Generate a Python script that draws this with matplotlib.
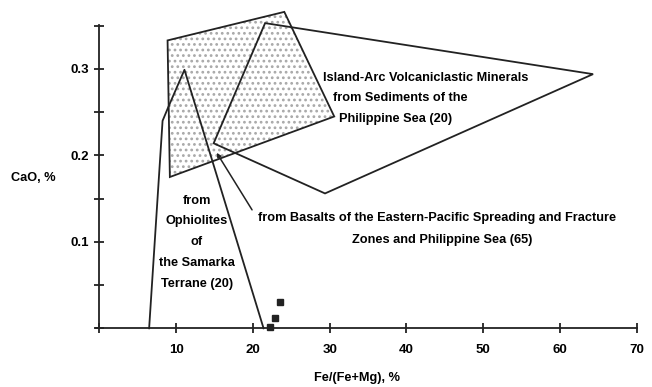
# -*- coding:utf-8 -*-

import numpy as np
import matplotlib as mpl
import matplotlib.pyplot as plt
from matplotlib.patches import Polygon

# Data
arc_x = [8.9, 24.1, 30.6, 9.2]            # Island-arc volcaniclastic minerals
arc_y = [0.333, 0.366, 0.245, 0.175]
basalt_x = [21.6, 64.3, 29.4, 14.9]       # Basalts, E-Pacific + Philippine Sea
basalt_y = [0.353, 0.294, 0.156, 0.214]
ophio_x = [6.5, 8.25, 9.0, 11.1, 21.4]    # Ophiolites of the Samarka terrane
ophio_y = [0.0, 0.240, 0.256, 0.299, 0.0]
pts_x = [23.5, 22.9, 22.3]
pts_y = [0.031, 0.012, 0.001]

xticks = [10, 20, 30, 40, 50, 60, 70]
yticks = [0.1, 0.2, 0.3]

plt.rcParams['font.family'] = ['Liberation Sans', 'DejaVu Sans']
plt.rcParams['font.weight'] = 'bold'
plt.rcParams['hatch.linewidth'] = 1.2

fig = plt.figure(figsize=(6.52, 3.87), dpi=100)
ax = fig.add_axes([0.1286, 0.1070, 0.8658, 0.8824])
ax.set_xlim(-2, 71.5)
ax.set_ylim(-0.02, 0.375)

# stippled field + outlines
ax.add_patch(Polygon(np.column_stack([arc_x, arc_y]), closed=True,
                     facecolor='none', edgecolor='#a8a8a8', hatch='...', lw=0))
ax.add_patch(Polygon(np.column_stack([arc_x, arc_y]), closed=True,
                     facecolor='none', edgecolor='#222222', lw=1.3))
ax.add_patch(Polygon(np.column_stack([basalt_x, basalt_y]), closed=True,
                     facecolor='none', edgecolor='#222222', lw=1.3))
ax.plot(ophio_x, ophio_y, color='#222222', lw=1.3)
ax.plot(pts_x, pts_y, 's', color='#222222', ms=4)

# leader from the basalt label
ax.annotate('', xy=(15.3, 0.203), xytext=(19.9, 0.137),
            arrowprops=dict(arrowstyle='-|>', color='#222222', lw=1.1,
                            mutation_scale=6, shrinkA=0, shrinkB=0))

fs = 9.2
ax.text(29.1, 0.2895, 'Island-Arc Volcaniclastic Minerals', fontsize=fs, va='center', ha='left')
ax.text(30.4, 0.2659, 'from Sediments of the', fontsize=fs, va='center', ha='left')
ax.text(31.2, 0.2421, 'Philippine Sea (20)', fontsize=fs, va='center', ha='left')

for yy, s in zip([0.1476, 0.1241, 0.1002, 0.0759, 0.0512],
                 ['from', 'Ophiolites', 'of', 'the Samarka', 'Terrane (20)']):
    ax.text(12.7, yy, s, fontsize=fs, va='center', ha='center')

ax.text(44.0, 0.1272, 'from Basalts of the Eastern-Pacific Spreading and Fracture',
        fontsize=fs, va='center', ha='center')
ax.text(44.7, 0.1021, 'Zones and Philippine Sea (65)', fontsize=fs, va='center', ha='center')

# Axes, drawn like the original
for s in ['top', 'right']:
    ax.spines[s].set_visible(False)
ax.spines['left'].set_position(('data', 0))
ax.spines['bottom'].set_position(('data', 0))
ax.spines['left'].set_bounds(0, 0.351)
ax.spines['bottom'].set_bounds(-0.4, 70)
for s in ['left', 'bottom']:
    ax.spines[s].set_linewidth(1.3)
    ax.spines[s].set_color('#222222')

ax.set_xticks(xticks)
ax.set_xticklabels([str(t) for t in xticks])
ax.set_xticks([0], minor=True)
ax.set_yticks(yticks)
ax.set_yticklabels(['0.1', '0.2', '0.3'])
ax.set_yticks([0, 0.05, 0.15, 0.25, 0.35], minor=True)
ax.tick_params(axis='both', which='both', direction='inout', length=7,
               width=1.3, color='#222222', labelsize=9.5)
ax.tick_params(axis='x', pad=8)
ax.tick_params(axis='y', pad=4)

fig.text(0.0514, 0.5393, 'CaO, %', fontsize=fs, ha='center', va='center')
fig.text(0.5483, 0.0233, 'Fe/(Fe+Mg), %', fontsize=fs, ha='center', va='center')

fig.savefig('out.png', dpi=100)
